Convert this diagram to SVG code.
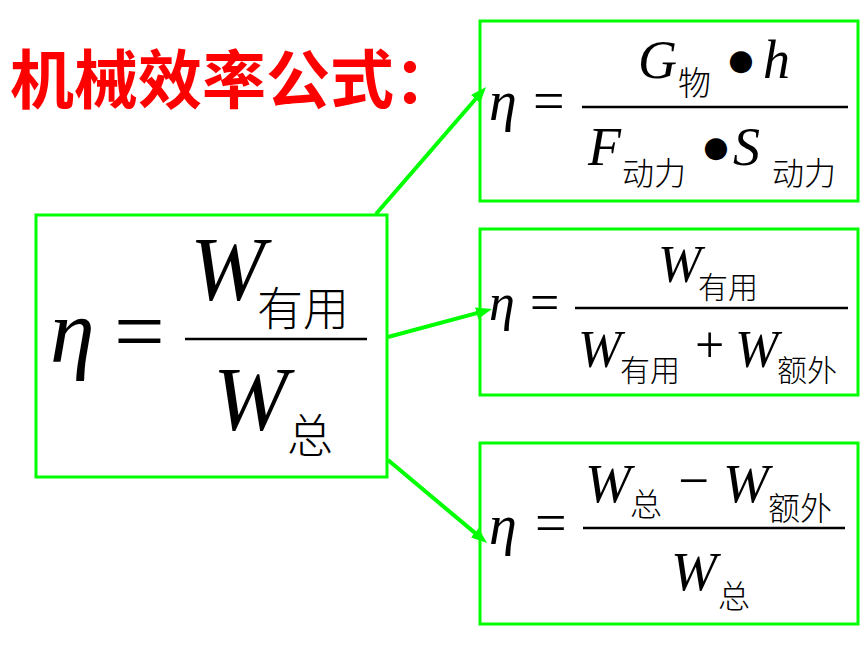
<svg xmlns="http://www.w3.org/2000/svg" width="860" height="645" viewBox="0 0 860 645">
<style>
.box{fill:#fff;stroke:#00ff00;stroke-width:3}
.m{font-family:"Liberation Serif","Times New Roman",serif;font-style:italic;fill:#000}
.o{font-family:"Liberation Serif","Times New Roman",serif;fill:#000}
.c{font-family:"Noto Sans CJK SC","Noto Sans",sans-serif;font-weight:300;fill:#000}
.b{font-family:"DejaVu Sans",sans-serif;fill:#000}
.bar{stroke:#000;stroke-width:2.5}
.arr{stroke:#00ff00;stroke-width:4;fill:none;marker-end:url(#ah)}
</style>
<defs>
<marker id="ah" markerUnits="userSpaceOnUse" viewBox="0 0 16 12" markerWidth="16" markerHeight="12" refX="8" refY="6" orient="auto">
<path d="M0,0 L16,6 L0,12 z" fill="#00ff00"/>
</marker>
</defs>
<rect width="860" height="645" fill="#fff"/>
<text id="title" x="10" y="103" font-family="Noto Sans CJK SC,sans-serif" font-weight="700" font-size="64" fill="#ff0000">机械效率公式：</text>
<g id="main">
<rect class="box" x="36" y="215" width="351" height="262"/>
<text class="m" x="50" y="362" font-size="90">η</text>
<text class="o" x="114" y="362" font-size="90">=</text>
<line class="bar" x1="185" y1="339" x2="367" y2="339" stroke-width="3"/>
<text class="m" x="190" y="300" font-size="90">W</text>
<text class="c" x="257" y="325" font-size="46">有用</text>
<text class="m" x="213" y="430" font-size="90">W</text>
<text class="c" x="287" y="452" font-size="46">总</text>
</g>
<g id="f1">
<rect class="box" x="480" y="21" width="378" height="180"/>
<text class="m" x="489" y="120" font-size="56">η</text>
<text class="o" x="533" y="120" font-size="56">=</text>
<line class="bar" x1="582" y1="107" x2="848" y2="107"/>
<text class="m" x="638" y="78" font-size="54">G</text>
<text class="c" x="678" y="95" font-size="33">物</text>
<text class="b" x="741" y="70" font-size="29" text-anchor="middle">●</text>
<text class="m" x="763" y="78" font-size="54">h</text>
<text class="m" x="588" y="165" font-size="54">F</text>
<text class="c" x="622" y="185" font-size="32">动力</text>
<text class="b" x="716" y="157" font-size="29" text-anchor="middle">●</text>
<text class="m" x="733" y="165" font-size="54">S</text>
<text class="c" x="772" y="185" font-size="32">动力</text>
</g>
<g id="f2">
<rect class="box" x="480" y="229" width="378" height="166"/>
<text class="m" x="489" y="320" font-size="52">η</text>
<text class="o" x="530" y="320" font-size="52">=</text>
<line class="bar" x1="575" y1="308" x2="848" y2="308"/>
<text class="m" x="658" y="282" font-size="52">W</text>
<text class="c" x="698" y="298" font-size="30">有用</text>
<text class="m" x="578" y="367" font-size="52">W</text>
<text class="c" x="620" y="381" font-size="30">有用</text>
<text class="o" x="695" y="362" font-size="52">+</text>
<text class="m" x="735" y="367" font-size="52">W</text>
<text class="c" x="777" y="381" font-size="30">额外</text>
</g>
<g id="f3">
<rect class="box" x="480" y="443" width="378" height="181"/>
<text class="m" x="489" y="544" font-size="56">η</text>
<text class="o" x="535" y="542" font-size="56">=</text>
<line class="bar" x1="583" y1="528" x2="845" y2="528"/>
<text class="m" x="585" y="502" font-size="55">W</text>
<text class="c" x="630" y="516" font-size="32">总</text>
<text class="o" x="678" y="499" font-size="55">−</text>
<text class="m" x="723" y="502" font-size="55">W</text>
<text class="c" x="768" y="520" font-size="32">额外</text>
<text class="m" x="671" y="590" font-size="55">W</text>
<text class="c" x="718" y="608" font-size="32">总</text>
</g>
<g id="connectors">
<line class="arr" x1="376" y1="214" x2="480.8" y2="93"/>
<line class="arr" x1="388" y1="337" x2="484.3" y2="311.1"/>
<line class="arr" x1="388" y1="460" x2="480.9" y2="537.9"/>
</g>
</svg>
